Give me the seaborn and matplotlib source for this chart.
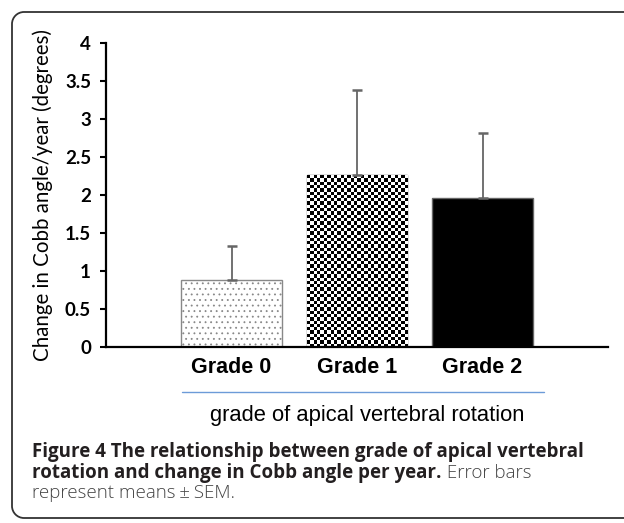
import numpy as np
import pandas as pd
import matplotlib
matplotlib.use("Agg")
import matplotlib.pyplot as plt
import seaborn as sns
from matplotlib.patches import PathPatch
from matplotlib.path import Path
from matplotlib.lines import Line2D
from matplotlib.transforms import IdentityTransform

# ---- data ----
categories = ["Grade 0", "Grade 1", "Grade 2"]
means = [0.88, 2.26, 1.96]
sem = [0.45, 1.12, 0.86]
y_ticks = [0, 0.5, 1, 1.5, 2, 2.5, 3, 3.5, 4]
y_tick_labels = ["0", "0.5", "1", "1.5", "2", "2.5", "3", "3.5", "4"]
y_label = "Change in Cobb angle/year (degrees)"
x_label = "grade of apical vertebral rotation"
caption_bold_1 = "Figure 4 The relationship between grade of apical vertebral"
caption_bold_2 = "rotation and change in Cobb angle per year."
caption_reg_2 = " Error bars"
caption_reg_3 = "represent means\u2009\u00b1\u2009SEM."

sns.set_theme(style="white")
plt.rcParams["hatch.linewidth"] = 0.6

W, H = 624, 523
fig = plt.figure(figsize=(W / 100, H / 100), dpi=100)
ax = fig.add_axes([106 / W, 1 - 347 / H, 502 / W, 304 / H])

df = pd.DataFrame({"grade": categories, "change": means})
sns.barplot(data=df, x="grade", y="change", order=categories, ax=ax,
            width=0.8, errorbar=None, color="white")

patches = ax.patches[:3]
# Grade 0: dotted
patches[0].set_facecolor("white")
patches[0].set_edgecolor("#888888")
patches[0].set_hatch("...")
patches[0].set_linewidth(1.0)
# Grade 1: checkerboard
patches[1].set_facecolor("white")
patches[1].set_edgecolor("#555555")
patches[1].set_linewidth(1.0)
# Grade 2: solid black
patches[2].set_facecolor("black")
patches[2].set_edgecolor("#666666")
patches[2].set_linewidth(1.0)

ax.set_xlim(-1.0, 3.0)
ax.set_ylim(0, 4)

# checkerboard image clipped to Grade 1 bar
fig.canvas.draw()
p = patches[1]
bb = p.get_window_extent()
sq = 3.3
nx = max(1, int(round(bb.width / sq)))
ny = max(1, int(round(bb.height / sq)))
board = (np.indices((ny, nx)).sum(axis=0) % 2).astype(float)
im = ax.imshow(board, cmap="gray_r", vmin=0, vmax=1, interpolation="nearest",
               extent=(p.get_x(), p.get_x() + p.get_width(), 0, p.get_height()),
               aspect="auto", zorder=p.get_zorder() + 0.1, origin="lower")
im.set_clip_path(p)
ax.set_xlim(-1.0, 3.0)
ax.set_ylim(0, 4)

# error bars (upper only)
xpos = np.arange(len(categories))
ax.errorbar(xpos, means, yerr=[np.zeros(len(sem)), sem], fmt="none",
            ecolor="#666666", elinewidth=1.3, capsize=3.5, capthick=1.8, zorder=5)

# axes styling
for s in ["top", "right"]:
    ax.spines[s].set_visible(False)
for s in ["left", "bottom"]:
    ax.spines[s].set_color("black")
    ax.spines[s].set_linewidth(1.6)
ax.set_yticks(y_ticks)
ax.set_yticklabels(y_tick_labels, fontfamily="Lato", fontweight="bold", fontsize=13.5,
                   color="black")
ax.tick_params(axis="y", left=True, length=4.3, width=1.5, pad=6.5, direction="out",
               colors="black")
ax.set_xticks(xpos)
ax.set_xticklabels(categories, fontfamily="Liberation Sans", fontweight="bold",
                   fontsize=15.5, color="black")
ax.tick_params(axis="x", bottom=False, length=0, pad=7.5)

ax.set_xlabel("")
ax.set_ylabel(y_label, fontsize=14.8, fontfamily="Lato", color="black")
ax.yaxis.set_label_coords(-0.1056, 0.5)
ax.grid(False)

# blue line under category labels
fig.add_artist(Line2D([182 / W, 544 / W], [1 - 392 / H, 1 - 392 / H],
                      transform=fig.transFigure, color="#6C9BD8", lw=1.0))

# x label
fig.text(210 / W, 1 - 415 / H, x_label, fontsize=15.8, fontfamily="Liberation Sans",
         color="black", ha="left", va="center")

# rounded border, open on the right (runs off the image)
r = 12
L, T, B = 12, H - 12, H - 518
k = 0.5523 * r
verts = [(W + 20, T), (L + r, T),
         (L + r - k, T), (L, T - r + k), (L, T - r),
         (L, B + r),
         (L, B + r - k), (L + r - k, B), (L + r, B),
         (W + 20, B)]
codes = [Path.MOVETO, Path.LINETO,
         Path.CURVE4, Path.CURVE4, Path.CURVE4,
         Path.LINETO,
         Path.CURVE4, Path.CURVE4, Path.CURVE4,
         Path.LINETO]
border = PathPatch(Path(verts, codes), transform=IdentityTransform(), fill=False,
                   edgecolor="#333333", linewidth=1.3)
fig.add_artist(border)

# caption
cap_kw = dict(fontfamily="Open Sans", fontsize=13.5, ha="left", va="baseline")
fig.text(32 / W, 1 - 457 / H, caption_bold_1, fontweight="bold", color="#231f20", **cap_kw)
tb = fig.text(32 / W, 1 - 478 / H, caption_bold_2, fontweight="bold", color="#231f20", **cap_kw)
fig.text(32 / W, 1 - 498 / H, caption_reg_3, fontweight="light", color="#444444", **cap_kw)
fig.canvas.draw()
ext = tb.get_window_extent()
fig.text(ext.x1 / W, 1 - 478 / H, caption_reg_2, fontweight="light", color="#444444", **cap_kw)

fig.savefig("out.png", dpi=100)
